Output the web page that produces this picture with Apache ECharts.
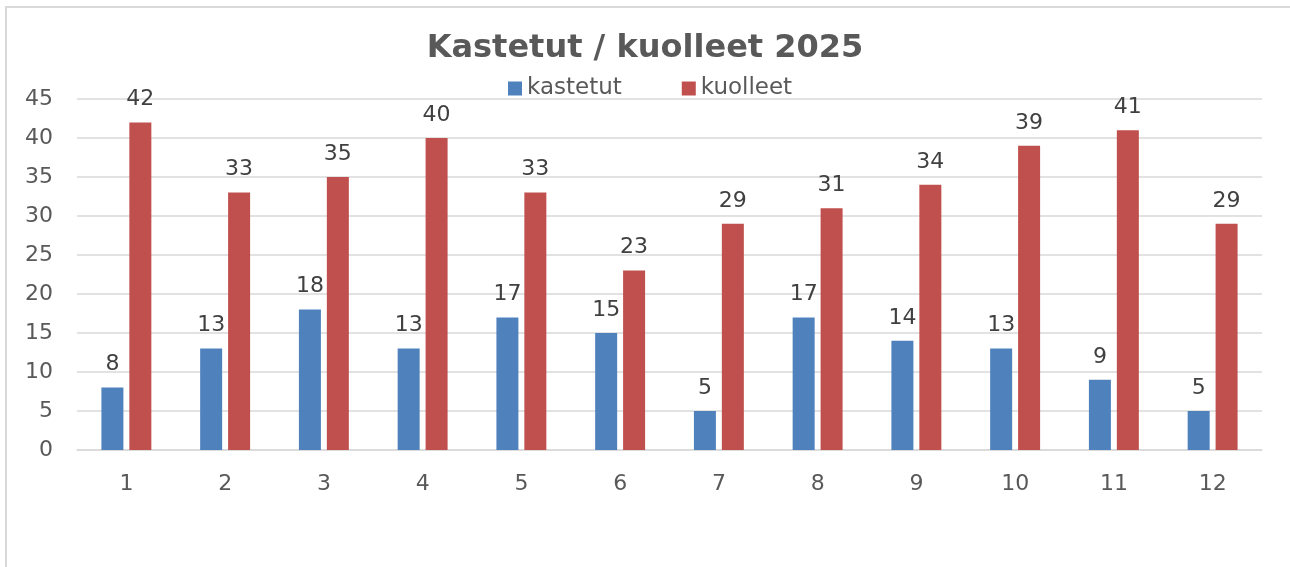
<!DOCTYPE html>
<html>
<head>
<meta charset="utf-8">
<script src="https://cdn.jsdelivr.net/npm/echarts@6/dist/echarts.min.js"></script>
<style>
  html, body { margin: 0; padding: 0; background: #fff; overflow: hidden; }
  #wrap { position: relative; width: 1290px; height: 567px; overflow: hidden; }
  .edge { position: absolute; background: #d9d9d9; }
  #edge-top { left: 6px; top: 6px; width: 1284px; height: 2px; }
  #edge-left { left: 5px; top: 6px; width: 2px; height: 561px; }
  #chart { position: absolute; left: 0; top: 0; width: 1290px; height: 567px; }
</style>
</head>
<body>
<div id="wrap">
  <div class="edge" id="edge-top"></div>
  <div class="edge" id="edge-left"></div>
  <div id="chart"></div>
</div>
<script>
  // months 1..12, baptized / deceased
  var months = ["1", "2", "3", "4", "5", "6", "7", "8", "9", "10", "11", "12"];
  var kastetut = [8, 13, 18, 13, 17, 15, 5, 17, 14, 13, 9, 5];
  var kuolleet = [42, 33, 35, 40, 33, 23, 29, 31, 34, 39, 41, 29];

  var FONT = "DejaVu Sans, Verdana, sans-serif";
  var chart = echarts.init(document.getElementById("chart"), null, { renderer: "canvas" });

  function labelStyle() {
    return { show: true, position: "top", distance: 12, color: "#404040",
             fontFamily: FONT, fontSize: 22 };
  }

  chart.setOption({
    backgroundColor: "transparent",
    animation: false,
    title: {
      text: "Kastetut / kuolleet 2025",
      left: "center", top: 28,
      textStyle: { color: "#595959", fontFamily: FONT, fontSize: 32, fontWeight: "bold" }
    },
    legend: {
      data: ["kastetut", "kuolleet"],
      top: 77, left: 508,
      padding: 0,
      itemWidth: 14, itemHeight: 14, itemGap: 60,
      icon: "rect",
      textStyle: { color: "#595959", fontFamily: FONT, fontSize: 23 }
    },
    grid: { left: 77, right: 28, top: 99, bottom: 117, containLabel: false },
    xAxis: {
      type: "category",
      data: months,
      axisLine: { lineStyle: { color: "#d9d9d9", width: 1.5 } },
      axisTick: { show: false },
      axisLabel: { color: "#595959", fontFamily: FONT, fontSize: 22, margin: 23 }
    },
    yAxis: {
      type: "value",
      min: 0, max: 45, interval: 5,
      axisLine: { show: false },
      axisTick: { show: false },
      splitLine: { lineStyle: { color: "#d9d9d9", width: 1.5 } },
      axisLabel: { color: "#595959", fontFamily: FONT, fontSize: 22, margin: 24 }
    },
    series: [
      { name: "kastetut", type: "bar", data: kastetut, barWidth: 22, barGap: "27%",
        itemStyle: { color: "#4F81BD" }, label: labelStyle() },
      { name: "kuolleet", type: "bar", data: kuolleet, barWidth: 22, barGap: "27%",
        itemStyle: { color: "#C0504D" }, label: labelStyle() }
    ]
  });
</script>
</body>
</html>
